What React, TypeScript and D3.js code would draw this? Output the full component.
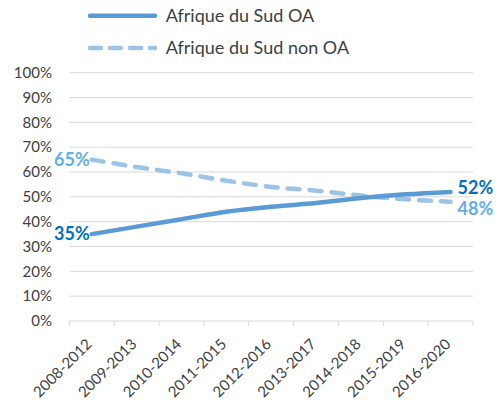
import React from "react";
import * as d3 from "d3";

const categories = ["2008-2012", "2009-2013", "2010-2014", "2011-2015", "2012-2016", "2013-2017", "2014-2018", "2015-2019", "2016-2020"];
const oaValues = [35, 38, 41, 44, 46, 47.5, 49.5, 51, 52];
const nonOaValues = [65, 62, 59.5, 56.5, 54, 52.5, 50.5, 49, 48];
const yTicks = [0, 10, 20, 30, 40, 50, 60, 70, 80, 90, 100];
const seriesNames = ["Afrique du Sud OA", "Afrique du Sud non OA"];

const FONT = "Lato, 'Open Sans', sans-serif";
const C_OA = "#5b9bd5";
const C_NON = "#9dc3e6";
const L_OA = "#0070c0";
const L_NON = "#64aee6";

export default function App() {
  const W = 499, H = 400;
  const x = d3.scaleBand<string>().domain(categories).range([69.3, 473]);
  const y = d3.scaleLinear().domain([0, 100]).range([321, 72.7]);
  const cx = (c: string) => (x(c) as number) + x.bandwidth() / 2;
  const line = d3.line<number>().x((_, i) => cx(categories[i])).y((v) => y(v)).curve(d3.curveMonotoneX);
  const boundaries = [...categories.map((c) => x(c) as number), 473];
  const last = categories.length - 1;

  return (
    <svg width={W} height={H} style={{ position: "absolute", left: 0, top: 0 }} fontFamily={FONT}>
      <rect width={W} height={H} fill="#fff" />
      {yTicks.map((t) => (
        <g key={t}>
          <line x1={69.3} x2={473} y1={y(t)} y2={y(t)} stroke="#d9d9d9" strokeWidth={1} />
          <text x={52} y={y(t)} dy="0.35em" textAnchor="end" fontSize={15} fill="#404040">{t}%</text>
        </g>
      ))}
      {boundaries.map((b, i) => (
        <line key={i} x1={b} x2={b} y1={321} y2={326} stroke="#d9d9d9" strokeWidth={1} />
      ))}
      {categories.map((c) => (
        <text key={c} transform={`translate(${cx(c) + 1},345) rotate(-45)`} textAnchor="end" fontSize={15} fill="#404040">{c}</text>
      ))}
      <path d={line(nonOaValues) || ""} fill="none" stroke={C_NON} strokeWidth={4.5} strokeDasharray="12 10" strokeLinecap="round" />
      <path d={line(oaValues) || ""} fill="none" stroke={C_OA} strokeWidth={4.5} strokeLinecap="round" />
      <text x={cx(categories[0]) - 2} y={y(oaValues[0])} dy="0.35em" textAnchor="end" fontSize={18} fontWeight="bold" fill={L_OA}>{oaValues[0]}%</text>
      <text x={cx(categories[0]) - 2} y={y(nonOaValues[0])} dy="0.35em" textAnchor="end" fontSize={18} fontWeight="bold" fill={L_NON}>{nonOaValues[0]}%</text>
      <text x={cx(categories[last]) + 7} y={y(oaValues[last]) - 4} dy="0.35em" textAnchor="start" fontSize={18} fontWeight="bold" fill={L_OA}>{oaValues[last]}%</text>
      <text x={cx(categories[last]) + 7} y={y(nonOaValues[last]) + 7} dy="0.35em" textAnchor="start" fontSize={18} fontWeight="bold" fill={L_NON}>{nonOaValues[last]}%</text>
      <line x1={90} x2={155} y1={15.7} y2={15.7} stroke={C_OA} strokeWidth={4.5} strokeLinecap="round" />
      <line x1={90} x2={155} y1={48} y2={48} stroke={C_NON} strokeWidth={4.5} strokeDasharray="11 9" strokeLinecap="round" />
      <text x={165.7} y={15.7} dy="0.35em" fontSize={18} fill="#404040">{seriesNames[0]}</text>
      <text x={165.7} y={48} dy="0.35em" fontSize={18} fill="#404040">{seriesNames[1]}</text>
    </svg>
  );
}
